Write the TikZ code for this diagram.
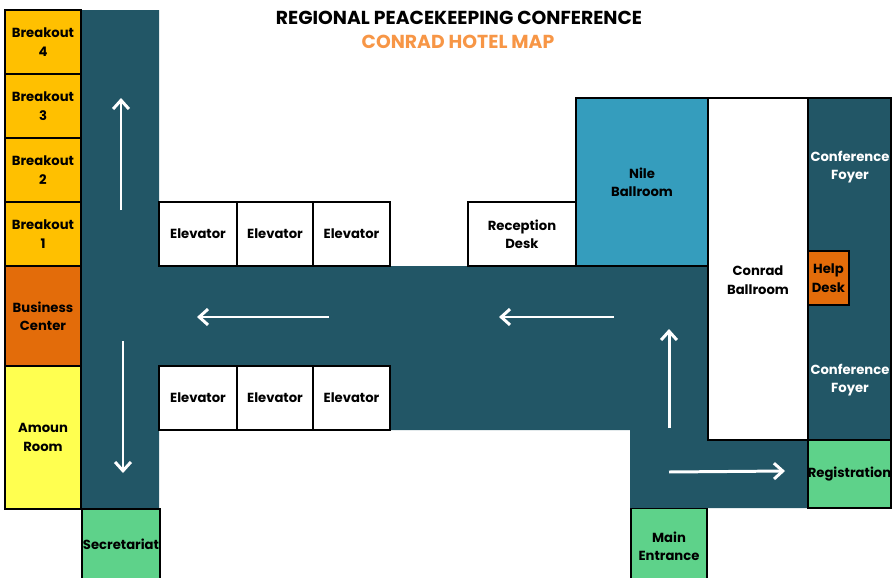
\documentclass[tikz,border=0pt]{standalone}
\usepackage{fontspec}
\setmainfont{Poppins}
\usetikzlibrary{arrows.meta}
\definecolor{floorTeal}{RGB}{34,86,102}
\definecolor{nileBlue}{RGB}{53,157,189}
\definecolor{breakoutGold}{RGB}{255,192,0}
\definecolor{deskOrange}{RGB}{227,108,10}
\definecolor{amounYellow}{RGB}{255,255,80}
\definecolor{regGreen}{RGB}{94,210,138}
\definecolor{titleOrange}{RGB}{247,150,70}

\begin{document}
\begin{tikzpicture}[x=0.02cm,y=-0.02cm,
  room/.style={draw,line width=1pt,align=center,inner sep=0pt,font=\fontsize{7.5}{10.5}\selectfont\bfseries},
  walk/.style={-{Straight Barb[length=5pt,width=9pt]},white,line width=1.7pt}]
\useasboundingbox (0,0) rectangle (896,578);
% Title
\node[font=\fontsize{10.7}{12}\selectfont\bfseries] (title) at (459,18) {REGIONAL PEACEKEEPING CONFERENCE};
\node[font=\fontsize{10.7}{12}\selectfont\bfseries,text=titleOrange] (subtitle) at (458,42) {CONRAD HOTEL MAP};
% Corridors
\fill[floorTeal] (82,10) -- (159,10) -- (159,266) -- (708,266) -- (708,440) -- (808,440)
  -- (808,508) -- (630,508) -- (630,430) -- (159,430) -- (159,509) -- (82,509) -- cycle;
% Left wing
\node[room,fill=breakoutGold,minimum width=1.52cm,minimum height=1.28cm] (b4) at (43,42) {Breakout\\4};
\node[room,fill=breakoutGold,minimum width=1.52cm,minimum height=1.28cm] (b3) at (43,106) {Breakout\\3};
\node[room,fill=breakoutGold,minimum width=1.52cm,minimum height=1.28cm] (b2) at (43,170) {Breakout\\2};
\node[room,fill=breakoutGold,minimum width=1.52cm,minimum height=1.28cm] (b1) at (43,234) {Breakout\\1};
\node[room,fill=deskOrange,minimum width=1.52cm,minimum height=2cm] (business) at (43,316) {Business\\Center};
\node[room,fill=amounYellow,minimum width=1.52cm,minimum height=2.86cm] (amoun) at (43,437.5) {Amoun\\Room};
\node[room,fill=regGreen,minimum width=1.56cm,minimum height=1.4cm] (secretariat) at (121,544) {Secretariat};
% Elevators
\node[room,fill=white,minimum width=1.56cm,minimum height=1.28cm] (e1) at (198,234) {Elevator};
\node[room,fill=white,minimum width=1.52cm,minimum height=1.28cm] (e2) at (275,234) {Elevator};
\node[room,fill=white,minimum width=1.54cm,minimum height=1.28cm] (e3) at (351.5,234) {Elevator};
\node[room,fill=white,minimum width=1.56cm,minimum height=1.28cm] (e4) at (198,398) {Elevator};
\node[room,fill=white,minimum width=1.52cm,minimum height=1.28cm] (e5) at (275,398) {Elevator};
\node[room,fill=white,minimum width=1.54cm,minimum height=1.28cm] (e6) at (351.5,398) {Elevator};
% Right wing
\node[room,fill=white,minimum width=2.16cm,minimum height=1.28cm] (reception) at (522,234) {Reception\\Desk};
\node[room,fill=nileBlue,minimum width=2.64cm,minimum height=3.36cm] (nile) at (642,182) {Nile\\Ballroom};
\node[room,fill=white,minimum width=2cm,minimum height=6.84cm] (conrad) at (758,269) {};
\node[room,draw=none] (conradText) at (758,280) {Conrad\\Ballroom};
\node[room,fill=floorTeal,minimum width=1.66cm,minimum height=6.84cm] (foyer) at (849.5,269) {};
\node[room,draw=none,text=white] (foyerTop) at (850,167) {Conference\\Foyer};
\node[room,draw=none,text=white] (foyerLow) at (850,380) {Conference\\Foyer};
\node[room,fill=deskOrange,minimum width=0.82cm,minimum height=1.08cm] (help) at (828.5,278) {Help\\Desk};
\node[room,fill=regGreen,minimum width=1.66cm,minimum height=1.36cm] (registration) at (849.5,474) {Registration};
\node[room,fill=regGreen,minimum width=1.52cm,minimum height=1.5cm] (entrance) at (669,546) {Main\\Entrance};
% Walking directions
\coordinate (upA) at (121,210);   \coordinate (upB) at (121,98);
\coordinate (downA) at (123,341); \coordinate (downB) at (123,473);
\coordinate (leftA) at (329,317); \coordinate (leftB) at (197,317);
\coordinate (leftC) at (614,317); \coordinate (leftD) at (499,317);
\coordinate (upC) at (669,428);   \coordinate (upD) at (669,329);
\coordinate (rightA) at (669,472); \coordinate (rightB) at (785,471);
\draw[walk] (upA) -- (upB);
\draw[walk] (downA) -- (downB);
\draw[walk] (leftA) -- (leftB);
\draw[walk] (leftC) -- (leftD);
\draw[walk] (upC) -- (upD);
\draw[walk] (rightA) -- (rightB);
\end{tikzpicture}
\end{document}
